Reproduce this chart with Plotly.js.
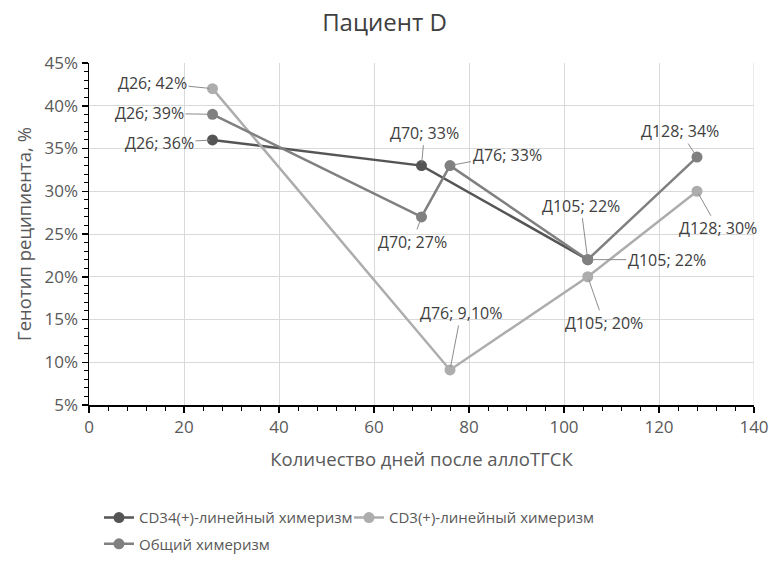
<!DOCTYPE html>
<html>
<head>
<meta charset="utf-8">
<script src="https://cdn.plot.ly/plotly-3.0.1.min.js"></script>
<style>html,body{margin:0;padding:0;background:#fff}#chart{width:769px;height:561px}</style>
</head>
<body>
<div id="chart"></div>
<script>
// Data
const seriesNames = ["CD34(+)-линейный химеризм", "CD3(+)-линейный химеризм", "Общий химеризм"];
const cd34Days = [26, 70, 105];
const cd34Values = [36, 33, 22];
const cd3Days = [26, 76, 105, 128];
const cd3Values = [42, 9.1, 20, 30];
const totalDays = [26, 70, 76, 105, 128];
const totalValues = [39, 27, 33, 22, 34];
const cd3LabelTexts = ["42%", "9,10%", "20%", "30%"];

// Styles
const colors = ["#555555", "#adadad", "#808080"];
// label offsets (pixels) for each point: [ax, ay]
const cd34Offsets = [[-53, 3], [3, -33], [-7, -54]];
const cd3Offsets = [[-60, -6], [11, -57], [16, 46], [21, 37]];
const totalOffsets = [[-63, -1], [-9, 25], [57, -11], [79, 0], [-17, -26]];

const FONT = "Open Sans, DejaVu Sans, sans-serif";

function trace(name, x, y, color, legend) {
  return {
    type: "scatter", mode: "lines+markers", name: name, x: x, y: y,
    line: {color: color, width: 2.5},
    marker: {color: color, size: 11},
    legend: legend,
    hoverinfo: "skip"
  };
}

function fmt(v) { return String(v).replace(".", ",") + "%"; }

const annotations = [];
function addLabels(days, values, offsets, texts) {
  days.forEach((d, i) => {
    annotations.push({
      x: d, y: values[i], xref: "x", yref: "y",
      text: "Д" + d + "; " + (texts ? texts[i] : fmt(values[i])),
      showarrow: true, arrowhead: 0, arrowwidth: 1, arrowcolor: "#8c8c8c",
      ax: offsets[i][0], ay: offsets[i][1], standoff: 3,
      font: {family: FONT, size: 16, color: "#404040"}
    });
  });
}
addLabels(cd34Days, cd34Values, cd34Offsets);
addLabels(cd3Days, cd3Values, cd3Offsets, cd3LabelTexts);
addLabels(totalDays, totalValues, totalOffsets);

const data = [
  trace(seriesNames[0], cd34Days, cd34Values, colors[0], "legend"),
  trace(seriesNames[1], cd3Days, cd3Values, colors[1], "legend"),
  trace(seriesNames[2], totalDays, totalValues, colors[2], "legend2")
];

const legendBase = {
  orientation: "h", xanchor: "left",
  font: {family: FONT, size: 15, color: "#595959"},
  traceorder: "normal", itemwidth: 30, tracegroupgap: 0,
  bgcolor: "rgba(0,0,0,0)"
};

const layout = {
  width: 769, height: 561,
  margin: {l: 89, r: 15, t: 63, b: 156, autoexpand: false},
  paper_bgcolor: "#ffffff", plot_bgcolor: "#ffffff",
  font: {family: FONT, size: 16, color: "#595959"},
  title: {text: "Пациент D", font: {family: FONT, size: 24, color: "#404040"}, x: 0.5, xanchor: "center", y: 0.96, yanchor: "middle"},
  xaxis: {
    range: [0, 140], dtick: 20, tick0: 0,
    showline: true, linecolor: "#000000", linewidth: 1.5,
    showgrid: true, gridcolor: "#d9d9d9", gridwidth: 1,
    zeroline: false,
    ticks: "outside", ticklen: 6, tickcolor: "#000000", tickwidth: 1.5,
    minor: {dtick: 4, ticks: "outside", ticklen: 4, tickcolor: "#000000", tickwidth: 1, showgrid: false},
    tickfont: {family: FONT, size: 17, color: "#595959"},
    ticklabeloverflow: "allow",
    title: {text: "Количество дней после аллоТГСК", font: {family: FONT, size: 18.5, color: "#595959"}, standoff: 16}
  },
  yaxis: {
    range: [5, 45], dtick: 5, tick0: 5, ticksuffix: "%",
    showline: true, linecolor: "#000000", linewidth: 1.5,
    showgrid: true, gridcolor: "#d9d9d9", gridwidth: 1,
    zeroline: false,
    ticks: "outside", ticklen: 6, tickcolor: "#000000", tickwidth: 1.5,
    minor: {dtick: 1, ticks: "outside", ticklen: 4, tickcolor: "#000000", tickwidth: 1, showgrid: false},
    tickfont: {family: FONT, size: 17, color: "#595959"},
    ticklabeloverflow: "allow",
    title: {text: "Генотип реципиента, %", font: {family: FONT, size: 18.5, color: "#595959"}, standoff: 8}
  },
  showlegend: true,
  legend: Object.assign({}, legendBase, {x: 0.015, y: -0.33, yanchor: "middle", entrywidth: 205, entrywidthmode: "pixels"}),
  legend2: Object.assign({}, legendBase, {x: 0.015, y: -0.455, yanchor: "bottom"}),
  annotations: annotations
};

// Grid line at the right edge (x = 140)
layout.shapes = [
  {type: "line", xref: "x", yref: "paper", x0: 140, x1: 140, y0: 0, y1: 1, line: {color: "#d9d9d9", width: 1}, layer: "below"}
];

Plotly.newPlot("chart", data, layout, {staticPlot: true, displayModeBar: false});
</script>
</body>
</html>
